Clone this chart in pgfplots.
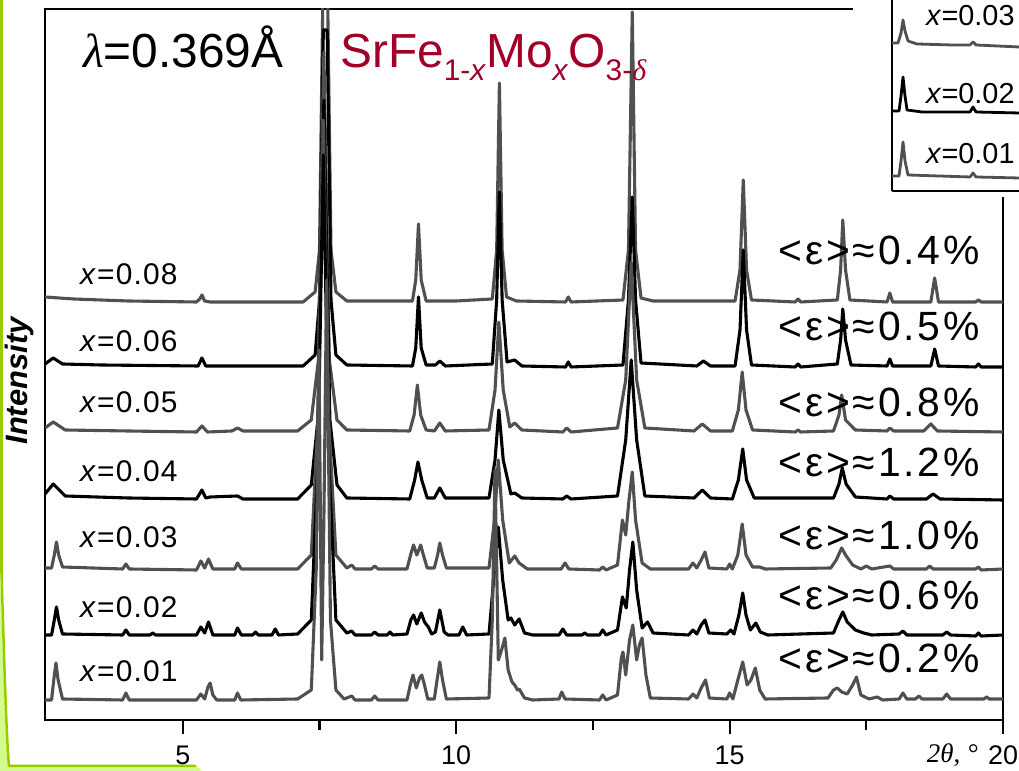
\documentclass[border=0pt]{standalone}
\usepackage{pgfplots}
\pgfplotsset{compat=1.18}
\usepackage{pgfplotstable}
\usepackage{fontspec}
\setmainfont{Liberation Sans}
\newfontfamily\tnr{Liberation Serif}
\newfontfamily\wideA{Liberation Sans}[LetterSpace=7]
\newfontfamily\wideB{Liberation Sans}[LetterSpace=4]
\definecolor{dg}{RGB}{80,80,80}
\definecolor{crim}{RGB}{160,0,40}
\definecolor{lgreen}{RGB}{153,204,0}
\definecolor{lgreenfill}{RGB}{210,250,140}
\newcommand\mysub[1]{\raisebox{-13bp}{\fontsize{30}{30}\selectfont #1}}

\pgfplotstableread{
x y
2.48 423
3.00 421
4.00 419
5.25 418
5.31 421
5.35 425
5.40 419
5.50 418
7.20 418
7.42 428
7.50 470
7.57 760
7.64 760
7.71 470
7.80 428
8.00 419
9.20 419
9.26 440
9.31 496
9.36 440
9.45 419
10.00 419
10.66 421
10.74 470
10.79 637
10.84 470
10.92 423
11.10 419
12.00 418
12.05 423
12.10 418
13.05 420
13.15 470
13.22 708
13.28 470
13.38 422
13.60 419
15.10 419
15.19 450
15.25 540
15.31 450
15.40 420
16.20 418
16.25 421
16.30 418
16.97 420
17.03 450
17.07 500
17.12 450
17.20 420
17.88 418
17.93 427
17.98 418
18.68 418
18.75 442
18.82 418
19.50 418
19.55 420
19.60 418
20.00 418
}\sEight

\pgfplotstableread{
x y
2.48 356
2.63 362
2.80 356
3.50 355
5.28 354
5.35 362
5.42 354
7.20 354
7.42 365
7.50 420
7.57 690
7.64 690
7.71 420
7.80 365
8.00 355
9.20 354
9.26 372
9.31 423
9.36 372
9.45 355
9.62 355
9.70 359
9.80 354
10.66 356
10.74 420
10.79 528
10.84 420
10.93 358
11.07 360
11.20 354
12.00 353
12.05 358
12.10 353
13.05 355
13.15 420
13.22 523
13.28 420
13.38 357
14.40 354
14.52 359
14.65 354
15.10 354
15.19 390
15.25 470
15.31 390
15.40 355
16.20 353
16.25 356
16.30 353
16.97 356
17.03 380
17.07 411
17.12 380
17.22 355
17.88 354
17.93 361
17.98 354
18.68 354
18.75 371
18.82 354
19.50 353
19.55 356
19.60 353
20.00 353
}\sSix

\pgfplotstableread{
x y
2.48 292
2.63 298
2.85 290
4.00 289
5.25 288
5.35 294
5.45 288
5.90 289
6.00 292
6.10 289
7.10 289
7.35 300
7.48 360
7.58 668
7.68 360
7.82 300
8.00 290
9.15 289
9.23 305
9.29 335
9.35 305
9.45 290
9.60 289
9.70 297
9.80 289
10.60 290
10.71 330
10.78 398
10.86 330
10.98 293
11.07 297
11.20 290
11.95 288
12.02 292
12.10 288
12.95 292
13.10 340
13.20 458
13.30 340
13.45 292
14.35 289
14.50 296
14.65 289
15.05 289
15.16 310
15.23 348
15.30 310
15.42 290
16.20 288
16.25 290
16.30 288
16.90 289
17.00 305
17.05 325
17.12 300
17.30 290
17.88 289
17.93 292
18.00 289
18.55 289
18.68 296
18.80 289
20.00 288
}\sFive

\pgfplotstableread{
x y
2.48 226
2.63 236
2.85 224
4.00 222
5.25 221
5.35 230
5.42 222
5.50 223
6.00 224
6.10 221
7.10 221
7.35 235
7.47 300
7.58 620
7.69 300
7.82 235
8.00 222
9.15 221
9.24 240
9.30 258
9.37 240
9.47 222
9.60 222
9.70 232
9.80 222
10.60 222
10.71 260
10.78 310
10.86 260
11.00 226
11.07 227
11.20 222
11.95 221
12.02 224
12.10 221
12.95 224
13.10 280
13.20 360
13.30 280
13.45 224
14.35 222
14.50 230
14.65 222
15.05 221
15.16 240
15.24 271
15.31 240
15.45 222
16.90 222
17.00 236
17.06 252
17.13 236
17.30 223
17.88 221
17.93 224
18.00 221
18.60 221
18.72 226
18.85 221
20.00 220
}\sFour

\pgfplotstableread{
x y
2.48 152
2.60 152
2.65 165
2.69 178
2.73 165
2.80 153
3.90 151
3.96 156
4.02 151
5.25 150
5.33 159
5.40 152
5.47 161
5.55 151
5.95 151
6.00 157
6.07 151
7.10 151
7.35 165
7.47 300
7.57 600
7.67 300
7.80 165
8.00 152
8.09 155
8.15 151
8.45 151
8.51 154
8.57 151
9.10 151
9.18 168
9.22 175
9.28 165
9.35 175
9.40 165
9.47 152
9.60 152
9.66 165
9.70 177
9.75 165
9.82 152
10.60 152
10.70 200
10.77 260
10.85 200
10.97 157
11.07 164
11.15 157
11.30 151
11.92 151
11.99 157
12.06 151
12.62 150
12.68 153
12.74 150
12.95 155
13.04 200
13.10 185
13.16 220
13.22 248
13.28 200
13.40 157
13.55 151
14.25 151
14.33 157
14.40 152
14.48 160
14.55 168
14.62 152
14.95 151
15.00 156
15.05 151
15.15 165
15.23 196
15.30 165
15.42 153
15.55 153
15.65 151
16.85 152
16.95 160
17.05 172
17.12 165
17.25 155
17.40 151
17.50 154
17.60 151
17.93 154
18.00 151
18.60 151
18.66 154
18.72 151
19.50 151
19.55 153
19.60 150
20.00 151
}\sThree

\pgfplotstableread{
x y
2.48 85
2.60 85
2.65 100
2.69 113
2.73 100
2.80 86
3.90 85
3.96 90
4.02 85
4.40 85
4.45 87
4.50 85
5.25 85
5.33 93
5.40 87
5.47 98
5.55 85
5.95 85
6.00 92
6.07 85
6.28 85
6.33 88
6.38 85
6.63 85
6.69 91
6.75 85
7.10 86
7.35 100
7.47 260
7.57 565
7.67 260
7.80 100
8.00 87
8.09 89
8.15 85
8.45 85
8.51 88
8.57 85
8.74 85
8.79 88
8.84 85
9.10 86
9.17 100
9.22 105
9.28 96
9.36 107
9.42 98
9.49 93
9.55 86
9.62 88
9.70 110
9.78 88
9.85 85
10.05 85
10.12 93
10.19 85
10.60 86
10.70 150
10.77 193
10.85 140
10.95 100
11.00 102
11.07 95
11.15 101
11.25 87
11.40 85
11.88 85
11.95 91
12.02 85
12.30 85
12.35 87
12.40 85
12.62 85
12.68 90
12.74 85
12.95 90
13.04 123
13.11 112
13.17 150
13.23 178
13.30 130
13.40 92
13.50 98
13.60 87
14.25 85
14.33 90
14.40 86
14.48 95
14.55 100
14.62 87
14.95 86
15.02 90
15.08 86
15.17 105
15.24 127
15.30 105
15.38 90
15.48 97
15.56 88
15.70 85
16.90 87
17.00 100
17.07 108
17.15 98
17.30 90
17.45 87
17.60 85
18.10 86
18.17 89
18.24 85
18.90 85
18.97 88
19.04 85
19.50 84
19.55 87
19.60 84
20.00 85
}\sTwo

\pgfplotstableread{
x y
2.48 20
2.60 20
2.64 40
2.68 57
2.72 40
2.80 21
3.90 20
3.96 27
4.02 20
5.25 20
5.33 26
5.40 21
5.46 33
5.50 37
5.55 25
5.62 20
5.95 20
6.00 27
6.06 20
7.10 21
7.35 30
7.44 150
7.49 370
7.54 60
7.58 200
7.63 440
7.70 100
7.80 30
7.95 21
8.09 24
8.15 20
8.45 20
8.51 24
8.57 20
9.10 20
9.16 35
9.21 45
9.27 32
9.33 42
9.37 45
9.42 35
9.48 21
9.60 21
9.65 40
9.70 58
9.75 40
9.82 21
10.60 22
10.66 100
10.71 250
10.77 60
10.83 70
10.89 82
10.95 50
11.02 38
11.07 35
11.12 30
11.15 31
11.25 22
11.40 20
11.88 21
11.93 28
11.99 21
12.62 20
12.68 25
12.74 20
12.95 25
13.02 62
13.05 68
13.10 45
13.17 80
13.23 95
13.30 60
13.35 75
13.40 82
13.47 45
13.55 22
14.25 21
14.33 26
14.40 22
14.48 32
14.56 40
14.63 22
14.95 21
15.00 27
15.06 21
15.15 40
15.24 58
15.32 35
15.39 40
15.47 52
15.55 30
15.65 21
16.80 22
16.90 30
16.97 32
17.05 28
17.15 26
17.25 35
17.32 43
17.40 25
17.55 21
17.70 23
17.80 20
18.10 21
18.17 27
18.24 21
18.40 21
18.46 24
18.52 21
18.90 21
18.97 26
19.04 21
19.65 21
19.70 23
19.75 21
20.00 21
}\sOne

\begin{document}
\begin{tikzpicture}[x=1bp,y=1bp]
\path[use as bounding box] (0,0) rectangle (1019,771);
\clip (0,0) rectangle (1019,771);
% slide decoration
\fill[lgreenfill] (0,0) -- (0,198) .. controls (3,120) and (5,40) .. (8,6) -- (195,6) .. controls (198,4) and (200,2) .. (202,0) -- cycle;
\draw[lgreen, line width=2.5bp] (1.5,771) -- (1.5,198) .. controls (4,120) and (6,40) .. (9,5) -- (196,5);

\begin{axis}[
  at={(45bp,51bp)}, anchor=south west,
  scale only axis, width=958bp, height=711bp,
  xmin=2.48, xmax=20, ymin=0, ymax=711,
  axis line style={line width=2.2bp, black},
  xtick={5,10,15,20}, minor xtick={7.5,12.5,17.5},
  ytick=\empty,
  xtick pos=left, tick align=outside,
  major tick length=14bp, minor tick length=10bp,
  tick style={line width=2.2bp, black},
  minor tick style={line width=2.2bp, black},
  /pgf/number format/assume math mode=true,
  xticklabel style={font=\fontsize{27}{27}\selectfont, yshift=-8bp},
  every axis plot/.append style={line width=3.1bp, line join=round, mark=none},
]
\addplot[dg] table {\sEight};
\addplot[black] table {\sSix};
\addplot[dg] table {\sFive};
\addplot[black] table {\sFour};
\addplot[dg] table {\sThree};
\addplot[black] table {\sTwo};
\addplot[dg] table {\sOne};
\end{axis}

% inset
\fill[white] (853,574) rectangle (1019,771);
\begin{axis}[
  at={(892bp,580bp)}, anchor=south west,
  scale only axis, width=300bp, height=300bp,
  xmin=0, xmax=300, ymin=0, ymax=300,
  axis lines=left, axis line style={-, line width=2.2bp, black},
  ticks=none,
  every axis plot/.append style={line width=2.8bp, line join=round, mark=none},
]
\addplot[dg] coordinates {(0,148) (6,148) (9,158) (11,171) (13,160) (16,150) (25,147) (60,146) (78,146) (81,149) (84,146) (127,144)};
\addplot[black] coordinates {(0,80) (7,80) (9,95) (11,114) (13,95) (15,81) (30,79) (78,79) (81,84) (84,79) (127,78)};
\addplot[dg] coordinates {(0,15) (7,15) (9,30) (11,49) (13,30) (16,16) (78,14) (81,18) (84,14) (127,13)};
\end{axis}

% texts
\node[anchor=base west, inner sep=0, font=\fontsize{48}{48}\selectfont] at (83,703) {{\tnr\itshape λ}=0.369Å};
\node[anchor=base west, inner sep=0, text=crim, font=\fontsize{48}{48}\selectfont] at (340,703) {SrFe\mysub{1-\textit{x}}Mo\mysub{\textit{x}}O\mysub{3-{\tnr\itshape δ}}};

\begin{scope}[every node/.style={anchor=base west, inner sep=0, font=\fontsize{30}{30}\selectfont\wideB}]
\node at (80,486) {\textit{x}=0.08};
\node at (80,419) {\textit{x}=0.06};
\node at (80,358) {\textit{x}=0.05};
\node at (80,289) {\textit{x}=0.04};
\node at (80,223) {\textit{x}=0.03};
\node at (80,153) {\textit{x}=0.02};
\node at (80,89) {\textit{x}=0.01};
\end{scope}
\begin{scope}[every node/.style={anchor=base west, inner sep=0, font=\fontsize{29}{29}\selectfont}]
\node at (926,745) {\textit{x}=0.03};
\node at (926,667) {\textit{x}=0.02};
\node at (926,607) {\textit{x}=0.01};
\end{scope}

\begin{scope}[every node/.style={anchor=base east, inner sep=0, font=\fontsize{41}{41}\selectfont\wideA}]
\node at (980,506) {<ε>≈0.4\%};
\node at (980,430) {<ε>≈0.5\%};
\node at (980,354) {<ε>≈0.8\%};
\node at (980,294) {<ε>≈1.2\%};
\node at (980,221) {<ε>≈1.0\%};
\node at (980,161) {<ε>≈0.6\%};
\node at (980,98) {<ε>≈0.2\%};
\end{scope}

\node[rotate=90, inner sep=0, font=\fontsize{31}{31}\selectfont\bfseries\itshape] at (20,390) {Intensity};
\node[anchor=base east, inner sep=0, font=\fontsize{27}{27}\selectfont\tnr\itshape] at (978,8) {2θ, °};
\end{tikzpicture}
\end{document}
